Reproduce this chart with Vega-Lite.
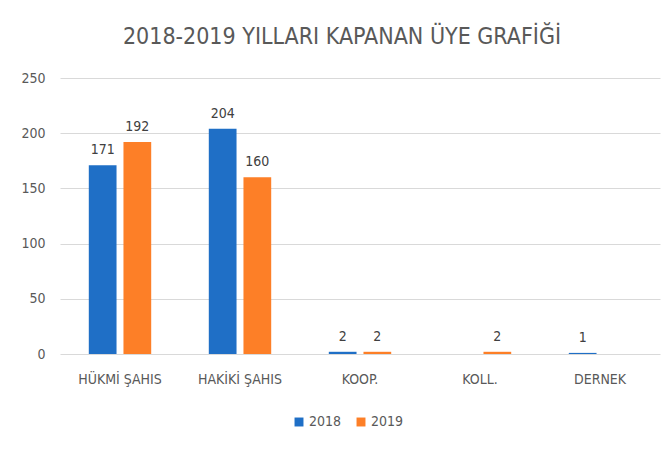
{
  "$schema": "https://vega.github.io/schema/vega-lite/v6.json",
  "width": 600,
  "height": 276,
  "autosize": {"type": "none"},
  "padding": {"left": 60, "top": 78, "right": 4, "bottom": 97},
  "background": "white",
  "title": {
    "text": "2018-2019 YILLARI KAPANAN ÜYE GRAFİĞİ",
    "font": "DejaVu Sans Condensed",
    "fontSize": 23,
    "fontWeight": "normal",
    "color": "#595959",
    "anchor": "middle",
    "dx": -18,
    "offset": 22
  },
  "data": {
    "values": [
      {"kategori": "HÜKMİ ŞAHIS", "yil": "2018", "deger": 171},
      {"kategori": "HÜKMİ ŞAHIS", "yil": "2019", "deger": 192},
      {"kategori": "HAKİKİ ŞAHIS", "yil": "2018", "deger": 204},
      {"kategori": "HAKİKİ ŞAHIS", "yil": "2019", "deger": 160},
      {"kategori": "KOOP.", "yil": "2018", "deger": 2},
      {"kategori": "KOOP.", "yil": "2019", "deger": 2},
      {"kategori": "KOLL.", "yil": "2019", "deger": 2},
      {"kategori": "DERNEK", "yil": "2018", "deger": 1}
    ]
  },
  "encoding": {
    "x": {
      "field": "kategori",
      "type": "nominal",
      "sort": ["HÜKMİ ŞAHIS", "HAKİKİ ŞAHIS", "KOOP.", "KOLL.", "DERNEK"],
      "scale": {"paddingInner": 0.48, "paddingOuter": 0.24},
      "axis": {
        "title": null,
        "domain": false,
        "ticks": false,
        "labelAngle": 0,
        "labelFont": "DejaVu Sans Condensed",
        "labelFontSize": 14,
        "labelColor": "#595959",
        "labelPadding": 18
      }
    },
    "xOffset": {
      "field": "yil",
      "type": "nominal",
      "scale": {"paddingInner": 0.2, "paddingOuter": 0}
    },
    "y": {
      "field": "deger",
      "type": "quantitative",
      "scale": {"domain": [0, 250]},
      "axis": {
        "title": null,
        "domain": false,
        "ticks": false,
        "values": [0, 50, 100, 150, 200, 250],
        "labelFont": "DejaVu Sans Condensed",
        "labelFontSize": 14,
        "labelColor": "#595959",
        "labelPadding": 15,
        "gridColor": "#d9d9d9",
        "gridWidth": 1
      }
    }
  },
  "layer": [
    {
      "mark": {"type": "bar"},
      "encoding": {
        "color": {
          "field": "yil",
          "type": "nominal",
          "scale": {"domain": ["2018", "2019"], "range": ["#1f6fc6", "#fd7f27"]},
          "legend": {
            "title": null,
            "orient": "none",
            "direction": "horizontal",
            "legendX": 232,
            "legendY": 337,
            "symbolType": "square",
            "symbolSize": 80,
            "symbolStrokeWidth": 0,
            "labelFont": "DejaVu Sans Condensed",
            "labelFontSize": 14,
            "labelColor": "#595959",
            "columnPadding": 12,
            "labelOffset": 3
          }
        }
      }
    },
    {
      "mark": {
        "type": "text",
        "baseline": "bottom",
        "dy": -8,
        "font": "DejaVu Sans Condensed",
        "fontSize": 14,
        "color": "#404040"
      },
      "encoding": {"text": {"field": "deger", "type": "quantitative"}}
    }
  ],
  "config": {"view": {"stroke": null}}
}
